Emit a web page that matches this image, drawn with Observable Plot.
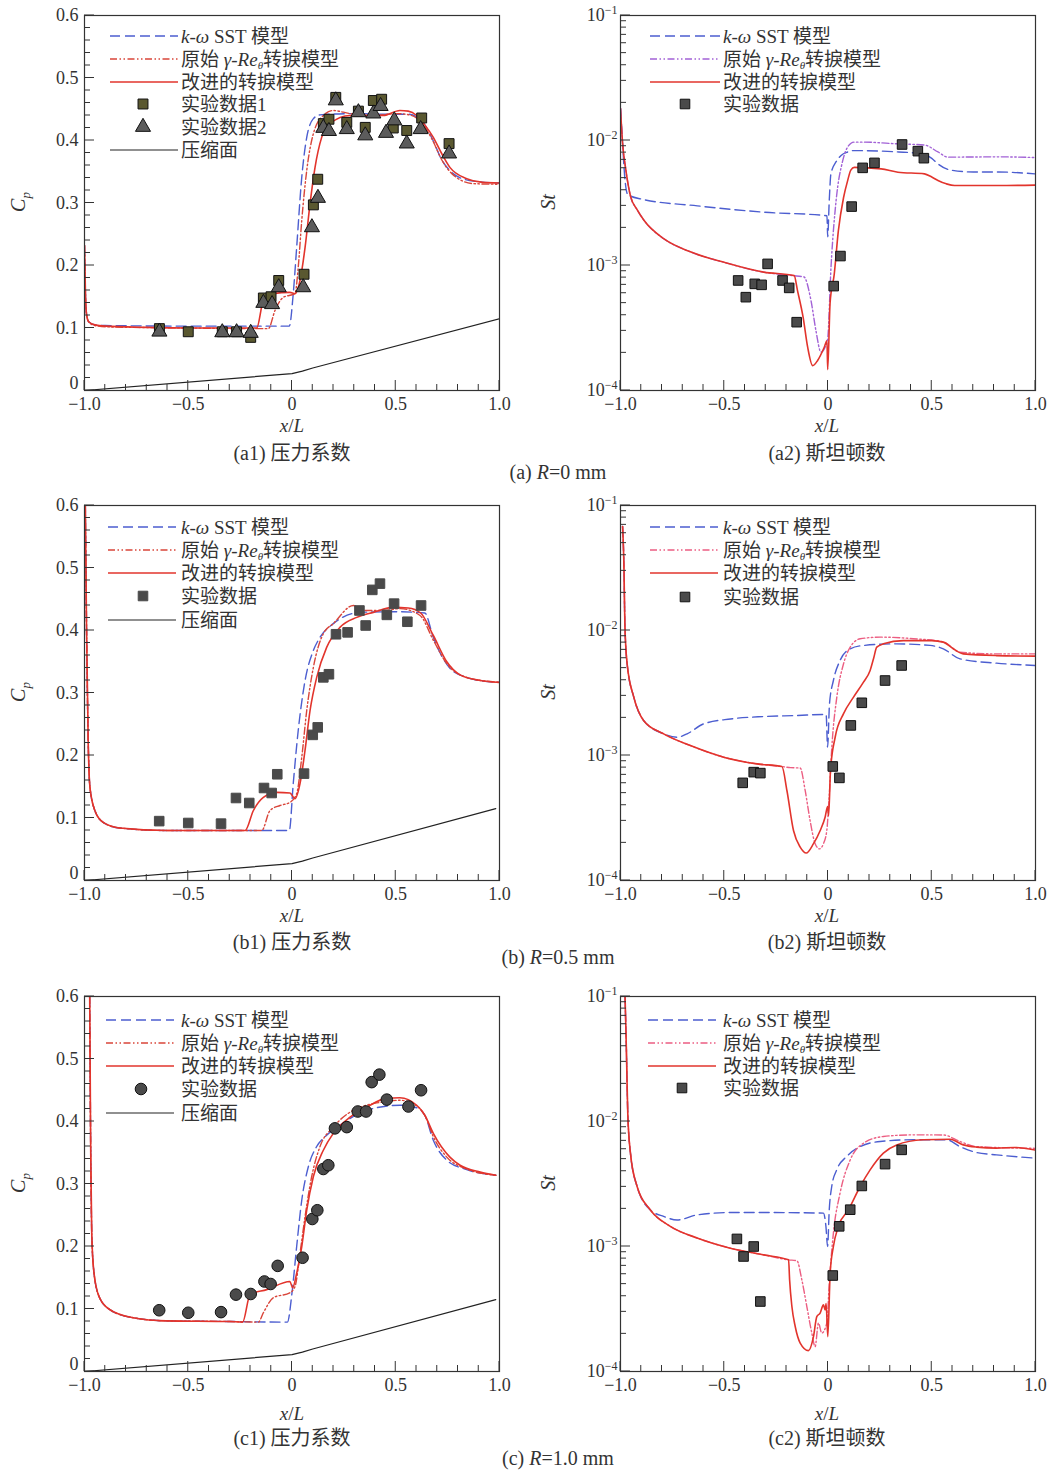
<!DOCTYPE html>
<html>
<head>
<meta charset="utf-8">
<script src="https://cdn.jsdelivr.net/npm/d3@7"></script>
<script src="https://cdn.jsdelivr.net/npm/@observablehq/plot@0.6"></script>
<style>
  body { margin: 0; background: #fff; }
  #page { position: relative; width: 1052px; height: 1471px; overflow: hidden;
          font-family: "Liberation Serif", "Noto Sans CJK SC", serif; color: #333; }
  .fig { position: absolute; }
  .cap { position: absolute; font-size: 20px; white-space: nowrap; transform: translate(-50%, -50%); line-height: 1; }
  .xlab { position: absolute; font-size: 19px; white-space: nowrap; transform: translate(-50%, -50%); line-height: 1; }
  .ylab { position: absolute; font-size: 20px; white-space: nowrap; transform: translate(-50%, -50%) rotate(-90deg); line-height: 1; }
  i { font-style: italic; }
</style>
</head>
<body>
<div id="page"></div>
<script>
// ---------- (a) R = 0 mm : pressure coefficient ----------
const cpA_sst = [[-1.0,0.232],[-0.995,0.15],[-0.99,0.122],[-0.98,0.11],[-0.95,0.105],[-0.9,0.104],[-0.5,0.103],[-0.1,0.103],[-0.013,0.103],[0.006,0.155],[0.0225,0.229],[0.047,0.341],[0.071,0.405],[0.103,0.435],[0.135,0.441],[0.3,0.443],[0.45,0.442],[0.56,0.442],[0.6,0.438],[0.64,0.425],[0.68,0.4],[0.72,0.37],[0.76,0.352],[0.82,0.339],[0.9,0.334],[1.0,0.332]];
const cpA_orig = [[-1.0,0.232],[-0.995,0.15],[-0.99,0.122],[-0.98,0.11],[-0.95,0.104],[-0.9,0.102],[-0.5,0.1],[-0.2,0.099],[-0.114,0.099],[-0.082,0.128],[-0.042,0.149],[0.0145,0.155],[0.03,0.197],[0.047,0.272],[0.071,0.352],[0.103,0.411],[0.151,0.44],[0.199,0.448],[0.28,0.443],[0.4,0.44],[0.5,0.443],[0.55,0.442],[0.6,0.436],[0.64,0.422],[0.681,0.398],[0.72,0.37],[0.777,0.345],[0.873,0.331],[1.0,0.33]];
const cpA_impr = [[-1.0,0.232],[-0.995,0.15],[-0.99,0.122],[-0.98,0.11],[-0.95,0.105],[-0.9,0.103],[-0.7,0.101],[-0.5,0.1],[-0.3,0.1],[-0.17,0.1],[-0.138,0.144],[-0.09,0.155],[-0.01,0.157],[0.0145,0.155],[0.0386,0.176],[0.063,0.229],[0.087,0.299],[0.111,0.357],[0.143,0.405],[0.183,0.427],[0.28,0.44],[0.44,0.44],[0.52,0.448],[0.56,0.447],[0.601,0.44],[0.64,0.425],[0.681,0.405],[0.72,0.38],[0.761,0.357],[0.842,0.339],[0.92,0.333],[1.0,0.332]];
const cpA_exp1 = [[-0.639,0.099],[-0.5,0.094],[-0.336,0.094],[-0.267,0.094],[-0.199,0.085],[-0.138,0.148],[-0.101,0.15],[-0.064,0.176],[0.058,0.186],[0.103,0.297],[0.124,0.338],[0.151,0.427],[0.178,0.434],[0.211,0.469],[0.264,0.429],[0.32,0.447],[0.353,0.421],[0.392,0.464],[0.432,0.466],[0.488,0.42],[0.553,0.416],[0.625,0.436],[0.757,0.395]];
const cpA_exp2 = [[-0.639,0.094],[-0.336,0.093],[-0.267,0.093],[-0.199,0.092],[-0.138,0.14],[-0.096,0.138],[-0.064,0.165],[0.054,0.165],[0.096,0.261],[0.125,0.308],[0.151,0.42],[0.178,0.415],[0.211,0.464],[0.264,0.418],[0.32,0.445],[0.353,0.408],[0.392,0.443],[0.427,0.455],[0.453,0.412],[0.493,0.432],[0.553,0.395],[0.62,0.418],[0.757,0.379]];
const rampA = [[-1.0,0],[0,0.027],[0.05,0.031],[0.1,0.036],[1.0,0.115]];

// ---------- (a) R = 0 mm : Stanton number ----------
const stA_sst = [[-1.0,0.018],[-0.99,0.0095],[-0.98,0.0052],[-0.965,0.0037],[-0.9,0.0034],[-0.63,0.003],[-0.31,0.00267],[-0.005,0.0025],[-0.0015,0.0017],[0.006,0.0033],[0.014,0.0054],[0.04,0.0068],[0.063,0.0076],[0.095,0.0081],[0.12,0.0083],[0.34,0.0081],[0.46,0.0078],[0.5,0.0072],[0.53,0.0065],[0.59,0.0058],[0.7,0.0056],[0.82,0.0056],[1.0,0.0054]];
const stA_orig = [[-1.0,0.018],[-0.99,0.0095],[-0.976,0.0061],[-0.952,0.0036],[-0.92,0.0028],[-0.887,0.0023],[-0.79,0.00163],[-0.66,0.00128],[-0.5,0.00106],[-0.31,0.000885],[-0.17,0.00083],[-0.116,0.00081],[-0.082,0.000525],[-0.058,0.0003],[-0.034,0.000203],[-0.015,0.00022],[-0.0015,0.00026],[0.0145,0.00097],[0.039,0.0033],[0.071,0.0069],[0.111,0.0095],[0.126,0.0097],[0.176,0.0097],[0.337,0.0094],[0.465,0.0092],[0.53,0.0081],[0.578,0.00736],[0.82,0.0074],[1.0,0.0073]];
const stA_impr = [[-1.0,0.018],[-0.99,0.0095],[-0.976,0.0061],[-0.952,0.0036],[-0.92,0.0028],[-0.887,0.0023],[-0.79,0.00163],[-0.66,0.00128],[-0.5,0.00106],[-0.31,0.000885],[-0.163,0.00083],[-0.147,0.00063],[-0.12,0.000386],[-0.098,0.000222],[-0.074,0.000158],[-0.05,0.000174],[-0.018,0.000222],[-0.005,0.00025],[-0.0015,0.000147],[0.01,0.0005],[0.03,0.00085],[0.05,0.0019],[0.075,0.0035],[0.095,0.0048],[0.11,0.0058],[0.127,0.0061],[0.256,0.00593],[0.337,0.00558],[0.465,0.00541],[0.5,0.0051],[0.53,0.00479],[0.57,0.0045],[0.61,0.00436],[0.82,0.00436],[1.0,0.0044]];
const stA_exp = [[-0.433,0.000759],[-0.396,0.000558],[-0.353,0.000713],[-0.32,0.0007],[-0.291,0.00103],[-0.219,0.000759],[-0.187,0.000662],[-0.151,0.000352],[0.0274,0.000684],[0.06,0.00119],[0.114,0.00296],[0.167,0.00604],[0.224,0.00662],[0.357,0.00929],[0.433,0.00822],[0.462,0.00722]];

// ---------- (b) R = 0.5 mm : pressure coefficient ----------
const cpB_sst = [[-0.996,0.6],[-0.99,0.4],[-0.982,0.22],[-0.974,0.15],[-0.95,0.112],[-0.91,0.093],[-0.83,0.084],[-0.6,0.08],[-0.013,0.08],[0.006,0.155],[0.03,0.24],[0.063,0.32],[0.103,0.368],[0.135,0.389],[0.199,0.411],[0.328,0.429],[0.5,0.43],[0.64,0.428],[0.68,0.39],[0.72,0.36],[0.76,0.34],[0.84,0.325],[0.92,0.319],[1.0,0.317]];
const cpB_orig = [[-0.996,0.6],[-0.99,0.4],[-0.982,0.22],[-0.974,0.15],[-0.95,0.112],[-0.91,0.093],[-0.83,0.084],[-0.6,0.08],[-0.146,0.08],[-0.106,0.112],[-0.058,0.12],[-0.01,0.125],[0.0225,0.139],[0.047,0.197],[0.071,0.272],[0.103,0.341],[0.151,0.395],[0.199,0.411],[0.296,0.44],[0.344,0.432],[0.44,0.432],[0.521,0.435],[0.617,0.424],[0.682,0.384],[0.746,0.347],[0.842,0.325],[1.0,0.317]];
const cpB_impr = [[-0.996,0.6],[-0.99,0.4],[-0.982,0.22],[-0.974,0.15],[-0.95,0.112],[-0.91,0.093],[-0.83,0.084],[-0.6,0.08],[-0.226,0.08],[-0.186,0.112],[-0.138,0.133],[-0.074,0.141],[-0.01,0.14],[0.0145,0.131],[0.0386,0.155],[0.0627,0.208],[0.087,0.272],[0.119,0.325],[0.167,0.373],[0.231,0.405],[0.312,0.421],[0.392,0.429],[0.488,0.437],[0.56,0.436],[0.62,0.428],[0.681,0.392],[0.746,0.35],[0.81,0.329],[0.907,0.32],[1.0,0.317]];
const cpB_exp = [[-0.64,0.095],[-0.5,0.092],[-0.342,0.091],[-0.27,0.132],[-0.206,0.124],[-0.135,0.148],[-0.098,0.14],[-0.071,0.17],[0.058,0.171],[0.1,0.233],[0.124,0.245],[0.151,0.325],[0.178,0.33],[0.212,0.394],[0.268,0.397],[0.325,0.432],[0.355,0.408],[0.387,0.465],[0.424,0.475],[0.457,0.425],[0.492,0.443],[0.556,0.414],[0.622,0.44]];
const rampBC = [[-1.0,0],[0,0.027],[0.05,0.031],[0.1,0.036],[0.982,0.115]];

// ---------- (b) R = 0.5 mm : Stanton number ----------
const stB_sst = [[-0.99,0.068],[-0.983,0.03],[-0.979,0.0113],[-0.968,0.0054],[-0.936,0.00293],[-0.888,0.0019],[-0.792,0.00149],[-0.727,0.0014],[-0.679,0.00149],[-0.6,0.00179],[-0.47,0.00196],[-0.31,0.00205],[-0.15,0.00209],[-0.009,0.00213],[-0.002,0.00117],[0.0072,0.00259],[0.026,0.00398],[0.058,0.00575],[0.107,0.00714],[0.171,0.00759],[0.331,0.00782],[0.492,0.0076],[0.556,0.00714],[0.636,0.00593],[0.812,0.00548],[1.0,0.00525]];
const stB_orig = [[-0.99,0.068],[-0.983,0.03],[-0.979,0.0113],[-0.968,0.0054],[-0.936,0.00293],[-0.888,0.0019],[-0.792,0.00149],[-0.663,0.0012],[-0.503,0.00097],[-0.342,0.000857],[-0.222,0.000816],[-0.18,0.0008],[-0.134,0.000794],[-0.11,0.000525],[-0.086,0.0003],[-0.062,0.000197],[-0.041,0.000179],[-0.022,0.000197],[-0.006,0.00025],[0.0056,0.000464],[0.0185,0.00117],[0.0425,0.00293],[0.0746,0.0054],[0.107,0.00736],[0.155,0.00858],[0.251,0.00885],[0.411,0.0086],[0.556,0.0081],[0.636,0.0067],[0.812,0.0065],[1.0,0.0065]];
const stB_impr = [[-0.99,0.068],[-0.983,0.03],[-0.979,0.0113],[-0.968,0.0054],[-0.936,0.00293],[-0.888,0.0019],[-0.792,0.00149],[-0.663,0.0012],[-0.503,0.00097],[-0.342,0.000857],[-0.222,0.000816],[-0.198,0.000525],[-0.166,0.00025],[-0.134,0.000185],[-0.105,0.000166],[-0.07,0.000197],[-0.038,0.00025],[-0.014,0.000321],[-0.002,0.00039],[0.003,0.00033],[0.012,0.00076],[0.0345,0.0014],[0.075,0.00216],[0.123,0.00293],[0.171,0.00386],[0.203,0.00479],[0.22,0.006],[0.235,0.00736],[0.267,0.00782],[0.363,0.0083],[0.5,0.0083],[0.556,0.00807],[0.604,0.00714],[0.652,0.0065],[0.812,0.0063],[1.0,0.00624]];
const stB_exp = [[-0.411,0.000604],[-0.358,0.000736],[-0.326,0.000723],[0.023,0.000817],[0.055,0.000662],[0.11,0.00174],[0.163,0.00264],[0.275,0.00398],[0.355,0.00525]];

// ---------- (c) R = 1.0 mm : pressure coefficient ----------
const cpC_sst = [[-0.975,0.6],[-0.97,0.35],[-0.965,0.22],[-0.955,0.16],[-0.93,0.12],[-0.878,0.099],[-0.765,0.086],[-0.605,0.081],[-0.3,0.08],[-0.022,0.079],[0.0,0.126],[0.0225,0.2],[0.047,0.274],[0.079,0.328],[0.119,0.36],[0.167,0.378],[0.231,0.394],[0.36,0.418],[0.52,0.426],[0.6,0.422],[0.64,0.41],[0.681,0.37],[0.746,0.338],[0.842,0.323],[0.982,0.314]];
const cpC_orig = [[-0.975,0.6],[-0.97,0.35],[-0.965,0.22],[-0.955,0.16],[-0.93,0.12],[-0.878,0.099],[-0.765,0.086],[-0.605,0.081],[-0.3,0.08],[-0.162,0.079],[-0.138,0.094],[-0.09,0.118],[-0.01,0.126],[0.0145,0.136],[0.0386,0.189],[0.063,0.248],[0.095,0.312],[0.135,0.36],[0.199,0.391],[0.296,0.418],[0.456,0.432],[0.52,0.434],[0.601,0.425],[0.64,0.41],[0.682,0.375],[0.746,0.343],[0.842,0.324],[0.982,0.314]];
const cpC_impr = [[-0.975,0.6],[-0.97,0.35],[-0.965,0.22],[-0.955,0.16],[-0.93,0.12],[-0.878,0.099],[-0.765,0.086],[-0.605,0.081],[-0.3,0.08],[-0.238,0.079],[-0.202,0.123],[-0.122,0.131],[-0.01,0.144],[0.003,0.134],[0.0225,0.157],[0.047,0.2],[0.071,0.258],[0.103,0.312],[0.151,0.354],[0.199,0.381],[0.28,0.407],[0.36,0.423],[0.456,0.437],[0.52,0.438],[0.601,0.426],[0.64,0.41],[0.681,0.381],[0.761,0.343],[0.81,0.33],[0.907,0.319],[0.982,0.314]];
const cpC_exp = [[-0.64,0.098],[-0.5,0.094],[-0.342,0.095],[-0.27,0.123],[-0.199,0.124],[-0.133,0.144],[-0.103,0.14],[-0.069,0.169],[0.051,0.182],[0.098,0.244],[0.122,0.258],[0.151,0.324],[0.175,0.33],[0.207,0.389],[0.264,0.391],[0.317,0.416],[0.357,0.416],[0.384,0.463],[0.421,0.475],[0.457,0.435],[0.561,0.424],[0.622,0.45]];

// ---------- (c) R = 1.0 mm : Stanton number ----------
const stC_sst = [[-0.978,0.1],[-0.972,0.04],[-0.965,0.0117],[-0.952,0.00558],[-0.92,0.00302],[-0.856,0.00196],[-0.792,0.00174],[-0.727,0.00163],[-0.631,0.00179],[-0.471,0.00187],[-0.31,0.00187],[-0.022,0.00185],[-0.01,0.00145],[-0.002,0.001],[0.006,0.00196],[0.018,0.00302],[0.042,0.0041],[0.09,0.00525],[0.155,0.0063],[0.251,0.00692],[0.411,0.00714],[0.572,0.00714],[0.636,0.0063],[0.716,0.00565],[0.812,0.00541],[1.0,0.00509]];
const stC_orig = [[-0.978,0.1],[-0.972,0.04],[-0.965,0.0117],[-0.952,0.00558],[-0.92,0.00302],[-0.856,0.00196],[-0.76,0.00145],[-0.631,0.00117],[-0.471,0.00097],[-0.31,0.000857],[-0.19,0.000782],[-0.15,0.00077],[-0.126,0.000541],[-0.102,0.000331],[-0.078,0.000203],[-0.062,0.000158],[-0.046,0.000244],[-0.03,0.000203],[-0.006,0.000244],[0.0072,0.00054],[0.026,0.00128],[0.058,0.00267],[0.107,0.00493],[0.171,0.0067],[0.267,0.00759],[0.411,0.00782],[0.556,0.0078],[0.636,0.00692],[0.716,0.0063],[1.0,0.0061]];
const stC_impr = [[-0.978,0.1],[-0.972,0.04],[-0.965,0.0117],[-0.952,0.00558],[-0.92,0.00302],[-0.856,0.00196],[-0.76,0.00145],[-0.631,0.00117],[-0.471,0.00097],[-0.31,0.000857],[-0.19,0.000782],[-0.185,0.000541],[-0.174,0.000331],[-0.158,0.000229],[-0.134,0.000169],[-0.094,0.000147],[-0.07,0.00019],[-0.054,0.000275],[-0.038,0.000293],[-0.022,0.000341],[-0.014,0.000311],[-0.009,0.00035],[-0.001,0.00019],[0.0104,0.000612],[0.026,0.001],[0.05,0.00145],[0.098,0.00196],[0.155,0.00302],[0.203,0.0041],[0.267,0.00558],[0.331,0.0065],[0.459,0.00714],[0.588,0.00722],[0.652,0.0065],[0.716,0.00624],[0.812,0.00612],[0.9,0.0062],[1.0,0.0059]];
const stC_exp = [[-0.439,0.00115],[-0.407,0.000832],[-0.358,0.001],[-0.326,0.000363],[0.023,0.000586],[0.054,0.00145],[0.107,0.00197],[0.163,0.00305],[0.275,0.00456],[0.355,0.00593]];

// ---------- axis ticks and labels ----------
const xTicks = [-1, -0.5, 0, 0.5, 1];
const cpTicks = [0, 0.1, 0.2, 0.3, 0.4, 0.5, 0.6];
const stTicks = [1e-4, 1e-3, 1e-2, 1e-1];
const xMinor = d3.range(-10, 11).map(i => i / 10);
const cpMinor = d3.range(0, 31).map(i => i / 50);
const stMinor = [-4, -3, -2].flatMap(e => d3.range(2, 10).map(k => k * Math.pow(10, e)));

// legend texts: [text, 0 = upright, 1 = italic, 2 = italic subscript]
const lgSST = [["k", 1], ["-", 0], ["ω", 1], [" SST 模型", 0]];
const lgOrig = [["原始 ", 0], ["γ", 1], ["-", 0], ["Re", 1], ["θ", 2], ["转捩模型", 0]];
const lgImpr = [["改进的转捩模型", 0]];
const lgExp = [["实验数据", 0]];
const lgExp1 = [["实验数据1", 0]];
const lgExp2 = [["实验数据2", 0]];
const lgRamp = [["压缩面", 0]];

// ---------- styles ----------
const INK = "#333";
const BLUE = "#4c5ed0";
const RED = "#e2342c";
const ORIG_RED = "#d9453a";
const ORIG_PURPLE = "#a262d6";
const ORIG_PINK = "#ec5e82";
const DASH_SST = "10,5";
const DASH_ORIG = "7,2.5,1.5,2.5,1.5,2.5";
const SERIF = "'Liberation Serif', 'Noto Sans CJK SC', serif";

const page = document.getElementById("page");
const px = d => d[0], py = d => d[1];

function line(data, stroke, dash, width, curve = "monotone-x") {
  return { data, stroke, dash, width, curve };
}

function fmtX(d) {
  if (d === 0) return "0";
  return (d < 0 ? "−" : "") + Math.abs(d).toFixed(1);
}

function writeRich(textSel, parts) {
  let shifted = false;
  for (const [t, style] of parts) {
    const ts = textSel.append("tspan").text(t);
    if (style >= 1) ts.attr("font-style", "italic");
    if (style === 2) { ts.attr("font-size", "11px").attr("dy", 3); shifted = true; }
    else if (shifted) { ts.attr("dy", -3); shifted = false; }
  }
}

function panel(cfg) {
  const { left, frameTop, mL, mR, frameW, frameH, st, lines, dots, legend } = cfg;
  const mT = 15, mB = 30;
  const marks = [];
  for (const l of lines) {
    marks.push(Plot.line(l.data, { x: px, y: py, stroke: l.stroke, strokeWidth: l.width,
      strokeDasharray: l.dash, curve: l.curve, clip: true }));
  }
  for (const s of dots) {
    marks.push(Plot.dot(s.data, { x: px, y: py, symbol: s.symbol, r: s.r, fill: s.fill,
      stroke: s.stroke, strokeWidth: 1 }));
  }
  marks.push(Plot.frame({ stroke: INK, strokeWidth: 1.2 }));

  const chart = Plot.plot({
    width: mL + frameW + mR,
    height: mT + frameH + mB,
    marginLeft: mL, marginRight: mR, marginTop: mT, marginBottom: mB,
    style: { fontFamily: SERIF, fontSize: "18px", color: INK, background: "transparent", overflow: "visible" },
    x: { domain: [-1, 1], ticks: xTicks, tickFormat: fmtX, tickSize: 0, tickPadding: 7, label: null },
    y: st
      ? { type: "log", domain: [1e-4, 1e-1], ticks: stTicks, tickFormat: d => String(Math.round(Math.log10(d))),
          tickSize: 0, tickPadding: 3, label: null }
      : { domain: [0, 0.6], ticks: cpTicks, tickFormat: d => d === 0 ? "0" : d.toFixed(1),
          tickSize: 0, tickPadding: 6, label: null },
    marks
  });

  const svg = d3.select(chart);
  const xs = chart.scale("x"), ys = chart.scale("y");
  const bottom = mT + frameH;

  // inward ticks on the left and bottom sides
  const tg = svg.append("g").attr("stroke", INK).attr("stroke-width", 1);
  const isMajorY = st ? (v => stTicks.includes(v)) : (v => Math.abs(v * 10 - Math.round(v * 10)) < 1e-6);
  const yAll = st ? stTicks.concat(stMinor) : cpMinor;
  for (const v of yAll) {
    const y = ys.apply(v);
    tg.append("line").attr("x1", mL).attr("x2", mL + (isMajorY(v) ? 10 : 6)).attr("y1", y).attr("y2", y);
  }
  for (const v of xMinor) {
    const x = xs.apply(v);
    const major = Math.abs(v * 2 - Math.round(v * 2)) < 1e-6;
    tg.append("line").attr("x1", x).attr("x2", x).attr("y1", bottom).attr("y2", bottom - (major ? 10 : 6));
  }

  const yLabels = svg.selectAll('g[aria-label^="y-axis"] text');
  if (st) {
    // powers of ten on the log axis
    yLabels.each(function () {
      const e = this.textContent.replace("-", "−");
      const t = d3.select(this);
      t.text("10");
      t.append("tspan").attr("dy", "-0.6em").attr("font-size", "12px").text(e);
    });
  } else {
    // keep the origin label clear of the first x label
    yLabels.filter(function () { return this.textContent === "0"; }).attr("transform", function () {
      return (this.getAttribute("transform") || "") + " translate(0,-7)";
    });
  }

  // legend inside the frame
  const lg = svg.append("g").attr("transform", `translate(${mL},${mT})`).attr("text-anchor", "start");
  legend.rows.forEach((row, i) => {
    const y = legend.y[i];
    if (row.kind === "line") {
      lg.append("line").attr("x1", legend.s0).attr("x2", legend.s1).attr("y1", y).attr("y2", y)
        .attr("stroke", row.stroke).attr("stroke-width", row.width).attr("stroke-dasharray", row.dash || null);
    } else {
      const sym = row.symbol === "triangle" ? d3.symbolTriangle : row.symbol === "circle" ? d3.symbolCircle : d3.symbolSquare;
      lg.append("path").attr("d", d3.symbol(sym, Math.PI * row.r * row.r)())
        .attr("transform", `translate(${legend.m},${y})`)
        .attr("fill", row.fill).attr("stroke", row.stroke).attr("stroke-width", 1);
    }
    const t = lg.append("text").attr("x", legend.l).attr("y", y).attr("dy", "0.35em")
      .attr("text-anchor", "start").attr("font-size", "19px").attr("fill", INK).style("font-family", SERIF);
    writeRich(t, row.label);
  });

  const wrap = document.createElement("div");
  wrap.className = "fig";
  wrap.style.left = left + "px";
  wrap.style.top = (frameTop - mT) + "px";
  wrap.appendChild(chart);
  page.appendChild(wrap);
}

function text(html, x, y, cls = "cap") {
  const d = document.createElement("div");
  d.className = cls;
  d.style.left = x + "px";
  d.style.top = y + "px";
  d.innerHTML = html;
  page.appendChild(d);
}

// legend row definitions
const rowSST = { kind: "line", stroke: BLUE, dash: DASH_SST, width: 1.4, label: lgSST };
const rowOrig = c => ({ kind: "line", stroke: c, dash: DASH_ORIG, width: 1.4, label: lgOrig });
const rowImpr = { kind: "line", stroke: RED, width: 1.6, label: lgImpr };
const rowRamp = { kind: "line", stroke: "#222", width: 1.2, label: lgRamp };
const sqDark = { symbol: "square", r: 5.4, fill: "#4a4a4a", stroke: "#111" };

const rows = [
  { top: 15, cp: { sst: cpA_sst, orig: cpA_orig, impr: cpA_impr, ramp: rampA },
    st: { sst: stA_sst, orig: stA_orig, impr: stA_impr, exp: stA_exp }, origSt: ORIG_PURPLE,
    lgCp: { s0: 26, s1: 94, l: 97, m: 59, y: [21, 44, 67, 89, 112, 135] },
    lgSt: { s0: 30, s1: 100, l: 103, m: 65, y: [21, 44, 67, 89] },
    xl: 425, cap: 453, rcap: 472, tag: "a", rtext: "0" },
  { top: 505, cp: { sst: cpB_sst, orig: cpB_orig, impr: cpB_impr, ramp: rampBC },
    st: { sst: stB_sst, orig: stB_orig, impr: stB_impr, exp: stB_exp }, origSt: ORIG_PINK,
    lgCp: { s0: 24, s1: 92, l: 97, m: 59, y: [22, 45, 68, 91, 115] },
    lgSt: { s0: 30, s1: 98, l: 103, m: 65, y: [22, 45, 68, 92] },
    xl: 915, cap: 942, rcap: 957, tag: "b", rtext: "0.5" },
  { top: 996, cp: { sst: cpC_sst, orig: cpC_orig, impr: cpC_impr, ramp: rampBC },
    st: { sst: stC_sst, orig: stC_orig, impr: stC_impr, exp: stC_exp }, origSt: ORIG_PINK,
    lgCp: { s0: 22, s1: 90, l: 97, m: 57, y: [24, 47, 70, 93, 117] },
    lgSt: { s0: 28, s1: 96, l: 103, m: 62, y: [24, 47, 70, 92] },
    xl: 1413, cap: 1438, rcap: 1458, tag: "c", rtext: "1.0" }
];

rows.forEach((r, idx) => {
  // pressure coefficient
  let cpDots, cpLegendRows;
  if (idx === 0) {
    const olive = { symbol: "square", r: 5.6, fill: "#5a5830", stroke: "#111" };
    const tri = { symbol: "triangle", r: 5.6, fill: "#5c5c5c", stroke: "#111" };
    cpDots = [{ data: cpA_exp1, ...olive }, { data: cpA_exp2, ...tri }];
    cpLegendRows = [rowSST, rowOrig(ORIG_RED), rowImpr,
      { kind: "dot", ...olive, label: lgExp1 }, { kind: "dot", ...tri, label: lgExp2 }, rowRamp];
  } else if (idx === 1) {
    const sq = { symbol: "square", r: 5.4, fill: "#4a4a4a", stroke: "#4a4a4a" };
    cpDots = [{ data: cpB_exp, ...sq }];
    cpLegendRows = [rowSST, rowOrig(ORIG_RED), rowImpr, { kind: "dot", ...sq, label: lgExp }, rowRamp];
  } else {
    const ci = { symbol: "circle", r: 5.8, fill: "#4a4a4a", stroke: "#111" };
    cpDots = [{ data: cpC_exp, ...ci }];
    cpLegendRows = [rowSST, rowOrig(ORIG_RED), rowImpr, { kind: "dot", ...ci, label: lgExp }, rowRamp];
  }
  panel({
    left: 0, frameTop: r.top, mL: 84, mR: 20, frameW: 415, frameH: 375, st: false,
    lines: [
      line(r.cp.ramp, "#222", null, 1.2, "linear"),
      line(r.cp.sst, BLUE, DASH_SST, 1.4),
      line(r.cp.orig, ORIG_RED, DASH_ORIG, 1.4),
      line(r.cp.impr, RED, null, 1.6)
    ],
    dots: cpDots,
    legend: { ...r.lgCp, rows: cpLegendRows }
  });

  // Stanton number
  panel({
    left: 540, frameTop: r.top, mL: 80, mR: 16, frameW: 415, frameH: 375, st: true,
    lines: [
      line(r.st.sst, BLUE, DASH_SST, 1.4),
      line(r.st.orig, r.origSt, DASH_ORIG, 1.4),
      line(r.st.impr, RED, null, 1.6)
    ],
    dots: [{ data: r.st.exp, ...sqDark }],
    legend: { ...r.lgSt, rows: [rowSST, rowOrig(r.origSt), rowImpr, { kind: "dot", ...sqDark, label: lgExp }] }
  });

  // axis titles and captions
  text("<i>x</i>/<i>L</i>", 292, r.xl, "xlab");
  text("<i>x</i>/<i>L</i>", 827, r.xl, "xlab");
  text(`(${r.tag}1) 压力系数`, 292, r.cap);
  text(`(${r.tag}2) 斯坦顿数`, 827, r.cap);
  text(`(${r.tag}) <i>R</i>=${r.rtext} mm`, 558, r.rcap);
  text("<i>C</i><sub style='font-size:13px;font-style:italic'>p</sub>", 20, r.top + 187, "ylab");
  text("<i>St</i>", 548, r.top + 187, "ylab");
});
</script>
</body>
</html>
